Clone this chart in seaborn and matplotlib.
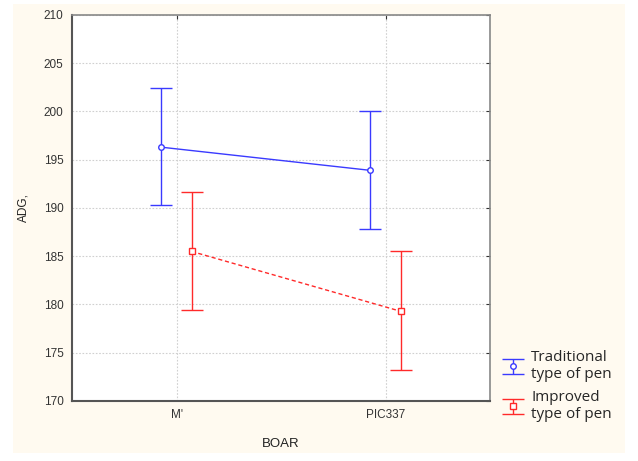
import matplotlib
matplotlib.use('Agg')
import matplotlib.pyplot as plt
from matplotlib.patches import Rectangle
import seaborn as sns
import pandas as pd
import numpy as np

# values
boars = ["M'", "PIC337"]
trad_mean = [196.3, 193.9]
trad_low = [190.3, 187.8]
trad_high = [202.4, 200.0]
impr_mean = [185.5, 179.3]
impr_low = [179.4, 173.2]
impr_high = [191.7, 185.5]
pens = ["Traditional\ntype of pen", "Improved\ntype of pen"]

sns.set_style('whitegrid')
plt.rcParams['font.family'] = ['Liberation Sans', 'DejaVu Sans']

fig = plt.figure(figsize=(6.38, 4.61), dpi=100, facecolor='white')
# cream panel behind the plot
fig.patches.append(Rectangle((13/638, 8/461), 612/638, 449/461, transform=fig.transFigure,
                             facecolor='#fffaf0', edgecolor='none', zorder=-10))
ax = fig.add_axes([72/638, 60/461, 418/638, 386/461])
ax.set_facecolor('white')

blue = '#3a3aff'
red = '#ff2a2a'
off = 0.072
xs = np.arange(len(boars))

df = pd.DataFrame({
    'x': np.concatenate([xs - off, xs + off]),
    'ADG': trad_mean + impr_mean,
    'pen': [pens[0]] * 2 + [pens[1]] * 2,
})

sns.lineplot(data=df, x='x', y='ADG', hue='pen', style='pen', palette=[blue, red],
             markers=False, dashes=[(None, None), (3, 2)], lw=1, ax=ax, legend=False, zorder=3)
handles = []
for m, lo, hi, sh, c, mk in [(trad_mean, trad_low, trad_high, -off, blue, 'o'),
                             (impr_mean, impr_low, impr_high, off, red, 's')]:
    m = np.array(m)
    h = ax.errorbar(xs + sh, m, yerr=[m - np.array(lo), np.array(hi) - m], fmt=mk, ls='none',
                    ms=4, mfc='white', mec=c, mew=1, ecolor=c, elinewidth=1,
                    capsize=8, capthick=1, zorder=4)
    handles.append(h)

ax.set_xlim(-0.5, 1.5)
ax.set_ylim(170, 210)
ax.set_xticks(xs)
ax.set_xticklabels(boars)
ax.set_yticks(range(170, 211, 5))
ax.grid(True, color='#d0d0d0', ls=(0, (1.5, 1.5)), lw=0.8)
ax.tick_params(axis='both', labelsize=8.5, colors='#333333', direction='in', length=3,
               right=True, top=True, left=False, bottom=False, pad=6)
for s in ['left', 'bottom']:
    ax.spines[s].set_color('#555555')
    ax.spines[s].set_linewidth(1.5)
for s in ['top', 'right']:
    ax.spines[s].set_color('#888888')
    ax.spines[s].set_linewidth(1.2)
ax.set_xlabel('BOAR', fontsize=9.5, color='#222222', labelpad=12)
ax.set_ylabel('ADG,', fontsize=8.5, color='#222222', labelpad=10)

fig.legend(handles, pens, loc='upper left', bbox_to_anchor=(496/638, 1 - 344/461),
           frameon=False, prop={'family': 'Open Sans', 'size': 11},
           handlelength=1.4, handletextpad=0.5, labelspacing=0.5, borderaxespad=0)

fig.savefig('out.png', dpi=100, facecolor='white')
